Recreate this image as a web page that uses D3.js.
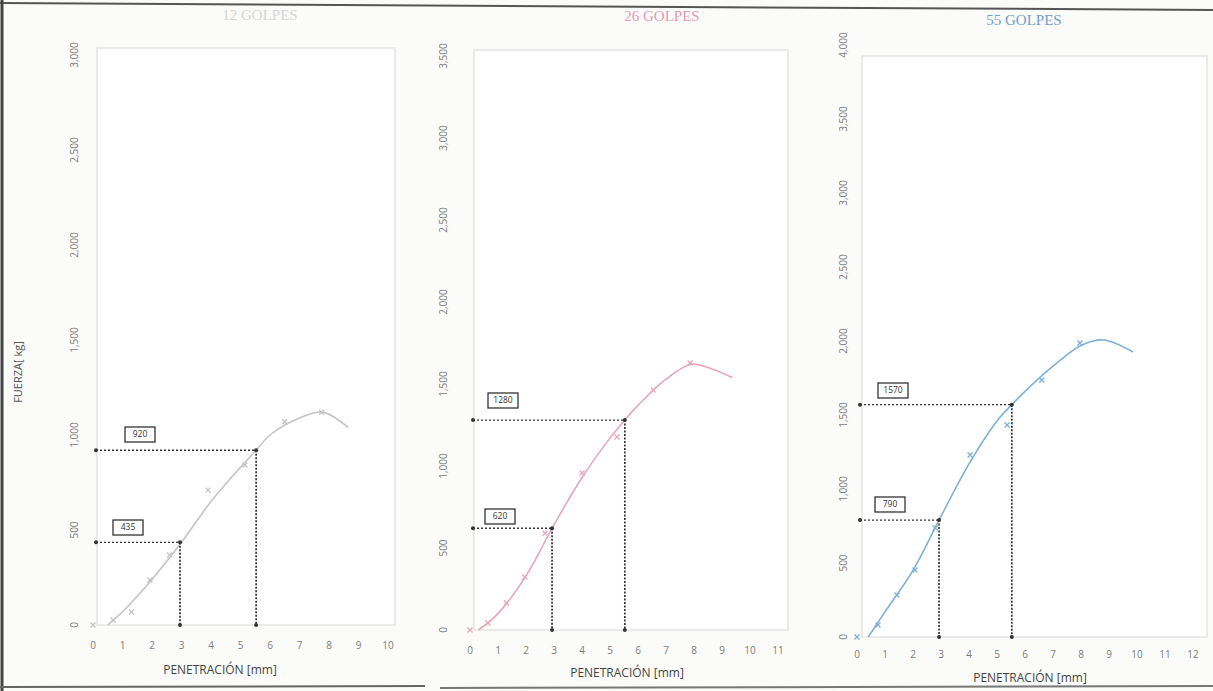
<!DOCTYPE html>
<html><head><meta charset="utf-8">
<script src="https://cdn.jsdelivr.net/npm/d3@7"></script>
<style>body{margin:0;background:#fbfbfa;}svg{display:block;}</style>
</head><body>
<svg id="c" width="1213" height="691"></svg>
<script>
// ---- data ----
const titles = ["12 GOLPES", "26 GOLPES", "55 GOLPES"];
const xMaxes = [10, 11, 12];
const yMaxes = [3000, 3500, 4000];
const xTicks = [d3.range(0, 11), d3.range(0, 12), d3.range(0, 13)];
const yTicks = [d3.range(0, 3001, 500), d3.range(0, 3501, 500), d3.range(0, 4001, 500)];

const pen12 = [0, 0.68, 1.3, 1.93, 2.6, 3.9, 5.15, 6.5, 7.75];
const force12 = [0, 26, 68, 237, 368, 710, 842, 1070, 1120];
const pen26 = [0, 0.64, 1.3, 1.96, 2.68, 4.0, 5.25, 6.54, 7.86];
const force26 = [0, 43, 165, 323, 590, 957, 1177, 1463, 1628];
const pen55 = [0, 0.75, 1.43, 2.07, 2.79, 4.04, 5.36, 6.6, 7.96];
const force55 = [0, 81, 284, 453, 736, 1230, 1432, 1736, 1986];

const fitX12 = [0.5, 1, 2, 3, 4, 5, 5.53, 6, 7, 7.8, 8.65];
const fitY12 = [0, 70, 240, 435, 650, 830, 920, 1000, 1090, 1120, 1040];
const fitX26 = [0.3, 1, 2, 2.93, 4, 5, 5.53, 6, 7, 7.9, 8.5, 9.36];
const fitY26 = [0, 100, 330, 620, 930, 1170, 1280, 1370, 1530, 1620, 1600, 1540];
const fitX55 = [0.4, 1, 2, 2.93, 4, 5, 5.53, 6, 7, 8, 8.8, 9.86];
const fitY55 = [0, 170, 450, 790, 1170, 1460, 1570, 1660, 1830, 1970, 2007, 1926];

const refPen = [[2.95, 5.53], [2.93, 5.53], [2.93, 5.53]];
const refForce = [[435, 920], [620, 1280], [790, 1570]];

// ---- layout / style ----
const layout = [
  {x0: 93, x1: 388, y0: 625, y1: 55, fx: 97, fr: 395, ft: 48, ylab: 74, xlab: 645, ttl: 670, tcx: 220, tx: 260, ty: 20,
   color: "#c4c4c4", tcolor: "#d6d6d6", lab: [[113, 520], [125, 427]]},
  {x0: 470, x1: 778, y0: 630, y1: 56, fx: 474, fr: 788, ft: 50, ylab: 443, xlab: 650, ttl: 673, tcx: 627, tx: 662, ty: 21,
   color: "#e7a7b8", tcolor: "#e39bb0", lab: [[485, 509], [488, 393]]},
  {x0: 857, x1: 1193, y0: 637, y1: 45, fx: 862, fr: 1207, ft: 56, ylab: 843, xlab: 654, ttl: 678, tcx: 1030, tx: 1024, ty: 25,
   color: "#7fb0da", tcolor: "#6f9fcc", lab: [[875, 497], [878, 383]]}
];
const pens = [pen12, pen26, pen55], forces = [force12, force26, force55];
const fitXs = [fitX12, fitX26, fitX55], fitYs = [fitY12, fitY26, fitY55];

const svg = d3.select("#c");
const font = "'Open Sans', 'Noto Sans', sans-serif";

// scan border lines
svg.append("line").attr("x1", 0).attr("y1", 3).attr("x2", 1213).attr("y2", 10).attr("stroke", "#555").attr("stroke-width", 2);
svg.append("line").attr("x1", 2).attr("y1", 0).attr("x2", 2).attr("y2", 691).attr("stroke", "#444").attr("stroke-width", 3);
svg.append("line").attr("x1", 0).attr("y1", 687).attr("x2", 425).attr("y2", 686).attr("stroke", "#666").attr("stroke-width", 2);
svg.append("line").attr("x1", 440).attr("y1", 688).attr("x2", 1213).attr("y2", 686).attr("stroke", "#777").attr("stroke-width", 2);

svg.append("text").attr("transform", "translate(22,372) rotate(-90)")
  .attr("text-anchor", "middle").attr("font-family", font).attr("font-size", 11).attr("fill", "#555")
  .text("FUERZA[ kg]");

layout.forEach((L, i) => {
  const x = d3.scaleLinear().domain([0, xMaxes[i]]).range([L.x0, L.x1]);
  const y = d3.scaleLinear().domain([0, yMaxes[i]]).range([L.y0, L.y1]);
  const g = svg.append("g");

  // frame
  g.append("rect").attr("x", L.fx).attr("y", L.ft).attr("width", L.fr - L.fx).attr("height", L.y0 - L.ft)
    .attr("fill", "#ffffff").attr("stroke", "#d8d8d8").attr("stroke-width", 1);

  // title
  g.append("text").attr("x", L.tx).attr("y", L.ty).attr("text-anchor", "middle")
    .attr("font-family", "'Liberation Serif', serif").attr("font-size", 15).attr("fill", L.tcolor).text(titles[i]);

  // y tick labels (rotated)
  g.selectAll(".yt").data(yTicks[i]).join("text")
    .attr("transform", d => `translate(${L.ylab},${y(d)}) rotate(-90)`)
    .attr("text-anchor", "middle").attr("dy", "0.35em")
    .attr("font-family", font).attr("font-size", 10).attr("fill", "#7c7c7c")
    .text(d => d3.format(",")(d));

  // x tick labels
  g.selectAll(".xt").data(xTicks[i]).join("text")
    .attr("x", d => x(d)).attr("y", L.xlab).attr("text-anchor", "middle").attr("dy", "0.35em")
    .attr("font-family", font).attr("font-size", 10).attr("fill", "#7c7c7c").text(d => d);

  g.append("text").attr("x", L.tcx).attr("y", L.ttl).attr("text-anchor", "middle").attr("dy", "0.35em")
    .attr("font-family", font).attr("font-size", 12).attr("fill", "#444").text("PENETRACIÓN  [mm]");

  // fitted curve
  const line = d3.line().x(d => x(d[0])).y(d => y(d[1])).curve(d3.curveCatmullRom.alpha(0.5));
  g.append("path").datum(d3.zip(fitXs[i], fitYs[i])).attr("d", line)
    .attr("fill", "none").attr("stroke", L.color).attr("stroke-width", 1.6);

  // data markers
  g.selectAll(".pt").data(d3.zip(pens[i], forces[i])).join("path")
    .attr("transform", d => `translate(${x(d[0])},${y(d[1])})`)
    .attr("d", d3.symbol(d3.symbolTimes, 18))
    .attr("fill", "none").attr("stroke", L.color).attr("stroke-width", 1.3);

  // reference dotted lines
  refPen[i].forEach((p, k) => {
    const f = refForce[i][k];
    g.append("line").attr("x1", x(0) + 3).attr("x2", x(p)).attr("y1", y(f)).attr("y2", y(f))
      .attr("stroke", "#333").attr("stroke-width", 1.4).attr("stroke-dasharray", "2,2");
    g.append("line").attr("x1", x(p)).attr("x2", x(p)).attr("y1", y(f)).attr("y2", y(0))
      .attr("stroke", "#333").attr("stroke-width", 1.7).attr("stroke-dasharray", "2,1.5");
    [[x(p), y(f)], [x(p), y(0)], [x(0) + 3, y(f)]].forEach(c => {
      g.append("circle").attr("cx", c[0]).attr("cy", c[1]).attr("r", 2).attr("fill", "#333");
    });
    const [bx, by] = L.lab[k];
    g.append("rect").attr("x", bx).attr("y", by).attr("width", 30).attr("height", 15)
      .attr("fill", "#fff").attr("stroke", "#333").attr("stroke-width", 1.3);
    g.append("text").attr("x", bx + 15).attr("y", by + 7.5).attr("text-anchor", "middle").attr("dy", "0.35em")
      .attr("font-family", font).attr("font-size", 8.5).attr("fill", "#333").text(f);
  });
});
</script>
</body></html>
